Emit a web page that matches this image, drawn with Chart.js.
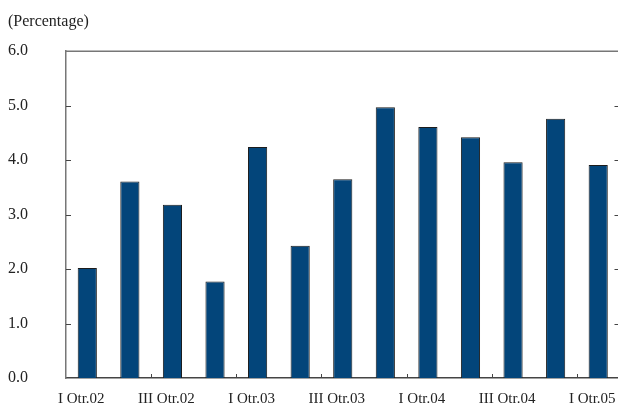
<!DOCTYPE html>
<html>
<head>
<meta charset="utf-8">
<script src="https://cdn.jsdelivr.net/npm/chart.js@4/dist/chart.umd.min.js"></script>
<style>
  html, body { margin: 0; padding: 0; overflow: hidden; background: #fff; }
  canvas { display: block; }
</style>
</head>
<body>
<canvas id="chart" width="622" height="404"></canvas>
<script>
// quarters, only every other one gets a label on the axis
var quarters = ["I Otr.02", "II Otr.02", "III Otr.02", "IV Otr.02",
                "I Otr.03", "II Otr.03", "III Otr.03", "IV Otr.03",
                "I Otr.04", "II Otr.04", "III Otr.04", "IV Otr.04",
                "I Otr.05"];
var values = [2.02, 3.61, 3.18, 1.77, 4.24, 2.43, 3.65, 4.97, 4.61, 4.42, 3.96, 4.76, 3.91];
var yTicks = [0, 1, 2, 3, 4, 5, 6];

var serif = "'Liberation Serif', 'Times New Roman', serif";

// frame on top + little ticks pointing into the plot
var frameTicks = {
  id: 'frameTicks',
  afterDraw: function(chart) {
    var ctx = chart.ctx, a = chart.chartArea;
    var x = chart.scales.x, y = chart.scales.y;
    ctx.save();
    ctx.strokeStyle = '#777';
    ctx.lineWidth = 1.5;
    ctx.beginPath();
    ctx.moveTo(a.left, a.top);
    ctx.lineTo(a.right, a.top);
    ctx.moveTo(a.right, a.top);
    ctx.lineTo(a.right, a.bottom);
    ctx.stroke();

    ctx.strokeStyle = '#444';
    ctx.lineWidth = 1;
    ctx.beginPath();
    yTicks.forEach(function(v) {
      if (v === 0 || v === 6) return;
      var py = Math.round(y.getPixelForValue(v)) + 0.5;
      ctx.moveTo(a.left, py); ctx.lineTo(a.left + 5, py);
      ctx.moveTo(a.right, py); ctx.lineTo(a.right - 5, py);
    });
    for (var i = 1.5; i < quarters.length - 1; i += 2) {
      var px = Math.round(x.getPixelForValue(i)) + 0.5;
      ctx.moveTo(px, a.bottom); ctx.lineTo(px, a.bottom - 4);
    }
    ctx.stroke();
    ctx.restore();
  }
};

new Chart(document.getElementById('chart'), {
  type: 'bar',
  data: {
    labels: quarters,
    datasets: [{
      data: values,
      backgroundColor: '#03457a',
      borderColor: '#1c1c1c',
      borderWidth: 1,
      categoryPercentage: 1.0,
      barPercentage: 0.45
    }]
  },
  options: {
    responsive: false,
    animation: false,
    devicePixelRatio: 1,
    layout: { padding: { left: 8, right: 2.5, top: 0, bottom: 0 } },
    plugins: {
      legend: { display: false },
      tooltip: { enabled: false },
      title: {
        display: true,
        text: '(Percentage)',
        align: 'start',
        color: '#222',
        font: { family: serif, size: 16, weight: 'normal', lineHeight: 1.2 },
        padding: { top: 12, bottom: 20 }
      }
    },
    scales: {
      x: {
        grid: { display: false, drawTicks: false },
        border: { display: true, color: '#444', width: 1.5 },
        ticks: {
          autoSkip: false,
          maxRotation: 0,
          padding: 12,
          labelOffset: -6,
          color: '#222',
          font: { family: serif, size: 15 },
          callback: function(v, i) { return i % 2 === 0 ? quarters[i] : ''; }
        },
        afterFit: function(s) {
          s.height = 26;
          s.paddingLeft = 0;
          s.paddingRight = 0;
        }
      },
      y: {
        min: 0,
        max: 6,
        grid: { display: false, drawTicks: false },
        border: { display: true, color: '#777', width: 1.5 },
        ticks: {
          stepSize: 1,
          crossAlign: 'far',
          color: '#222',
          font: { family: serif, size: 16 },
          callback: function(v) { return v.toFixed(1); }
        },
        afterFit: function(s) { s.width = 58; }
      }
    }
  },
  plugins: [frameTicks]
});
</script>
</body>
</html>
